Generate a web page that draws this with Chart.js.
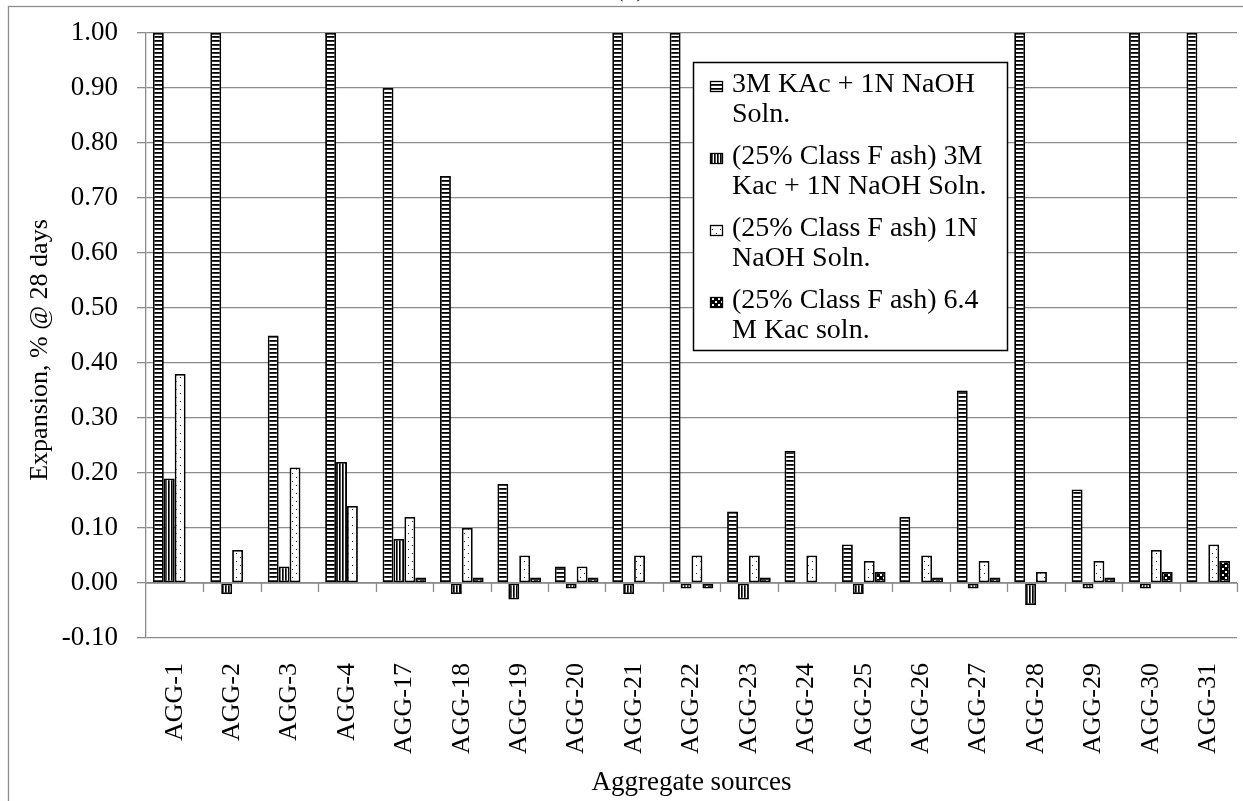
<!DOCTYPE html>
<html>
<head>
<meta charset="utf-8">
<title>Expansion at 28 days by aggregate source</title>
<script src="https://cdn.jsdelivr.net/npm/chart.js@4.4.1/dist/chart.umd.min.js"></script>
<style>
  html, body { margin: 0; padding: 0; background: #fff; }
  #wrap { position: relative; width: 1243px; height: 801px; }
</style>
</head>
<body>
<div id="wrap"><canvas id="c"></canvas></div>
<script>
// ---- data -------------------------------------------------------------
const categories = ['AGG-1', 'AGG-2', 'AGG-3', 'AGG-4', 'AGG-17', 'AGG-18', 'AGG-19', 'AGG-20',
  'AGG-21', 'AGG-22', 'AGG-23', 'AGG-24', 'AGG-25', 'AGG-26', 'AGG-27', 'AGG-28', 'AGG-29',
  'AGG-30', 'AGG-31'];

const kacNaoh       = [1.00, 1.00, 0.45, 1.00, 0.90, 0.74, 0.18, 0.03, 1.00, 1.00, 0.13, 0.24, 0.07, 0.12, 0.35, 1.00, 0.17, 1.00, 1.00];
const ashKacNaoh    = [0.19, -0.02, 0.03, 0.22, 0.08, -0.02, -0.03, -0.01, -0.02, -0.01, -0.03, null, -0.02, null, -0.01, -0.04, -0.01, -0.01, null];
const ashNaoh       = [0.38, 0.06, 0.21, 0.14, 0.12, 0.10, 0.05, 0.03, 0.05, 0.05, 0.05, 0.05, 0.04, 0.05, 0.04, 0.02, 0.04, 0.06, 0.07];
const ashKac64      = [null, null, null, null, 0.01, 0.01, 0.01, 0.01, null, -0.01, 0.01, null, 0.02, 0.01, 0.01, null, 0.01, 0.02, 0.04];

const seriesLines = [
  ['3M KAc + 1N NaOH', 'Soln.'],
  ['(25% Class F ash) 3M', 'Kac + 1N NaOH Soln.'],
  ['(25% Class F ash) 1N', 'NaOH Soln.'],
  ['(25% Class F ash) 6.4', 'M Kac soln.']
];

const yTickValues = [-0.10, 0.00, 0.10, 0.20, 0.30, 0.40, 0.50, 0.60, 0.70, 0.80, 0.90, 1.00];

const yTitle = 'Expansion, % @ 28 days';
const xTitle = 'Aggregate sources';
const chartTag = '(b)';

// ---- fill patterns ----------------------------------------------------
const mainCtx = document.getElementById('c').getContext('2d');
function makePattern(w, h, paint) {
  const c = document.createElement('canvas');
  c.width = w; c.height = h;
  const g = c.getContext('2d');
  paint(g, w, h);
  return mainCtx.createPattern(c, 'repeat');
}
const hStripes = makePattern(4, 4, (g, w, h) => {
  g.fillStyle = '#fff'; g.fillRect(0, 0, w, h);
  g.fillStyle = '#000'; g.fillRect(0, 0, w, 1);
  g.fillStyle = '#333'; g.fillRect(0, 1, w, 1);
});
const vStripes = makePattern(3, 3, (g, w, h) => {
  g.fillStyle = '#fff'; g.fillRect(0, 0, w, h);
  g.fillStyle = '#000'; g.fillRect(0, 0, 1, h);
  g.fillStyle = '#555'; g.fillRect(1, 0, 1, h);
});
const sparseDots = makePattern(8, 8, (g, w, h) => {
  g.fillStyle = '#fff'; g.fillRect(0, 0, w, h);
  g.fillStyle = '#222'; g.fillRect(4, 1, 1, 1); g.fillRect(0, 5, 1, 1);
});
const checker = makePattern(6, 6, (g, w, h) => {
  g.fillStyle = '#000'; g.fillRect(0, 0, w, h);
  g.fillStyle = '#fff'; g.fillRect(1, 1, 2, 2); g.fillRect(4, 4, 2, 2);
});
const fills = [hStripes, vStripes, sparseDots, checker];

const FONT = "'Liberation Serif', 'Times New Roman', serif";
const GRID = '#8c8c8c';

// ---- extra drawing: zero axis, frame, legend, titles --------------------
const decorations = {
  id: 'decorations',
  beforeDatasetsDraw(chart) {
    const { ctx, chartArea: a, scales: { y } } = chart;
    const y0 = y.getPixelForValue(0);
    ctx.save();
    ctx.strokeStyle = GRID;
    ctx.lineWidth = 1.3;
    ctx.beginPath();
    ctx.moveTo(a.left, y0); ctx.lineTo(a.right, y0);
    const step = (a.right - a.left) / categories.length;
    for (let i = 1; i <= categories.length; i++) {
      const px = Math.round(a.left + step * i) + 0.5;
      ctx.moveTo(px, y0); ctx.lineTo(px, y0 + 9);
    }
    ctx.stroke();
    ctx.restore();
  },
  afterDraw(chart) {
    const { ctx } = chart;
    ctx.save();
    // outer frame
    ctx.strokeStyle = GRID;
    ctx.lineWidth = 1.3;
    ctx.strokeRect(8.5, 6.5, 1400, 900);
    // tag above the frame
    ctx.fillStyle = '#000';
    ctx.font = '26px ' + FONT;
    ctx.textAlign = 'center';
    ctx.textBaseline = 'alphabetic';
    ctx.fillText(chartTag, 630, -4);
    // y axis title
    ctx.save();
    ctx.translate(40, 350);
    ctx.rotate(-Math.PI / 2);
    ctx.font = '26px ' + FONT;
    ctx.textBaseline = 'middle';
    ctx.fillText(yTitle, 0, 0);
    ctx.restore();
    // legend
    const box = { left: 693, top: 62, right: 1007, bottom: 350 };
    ctx.fillStyle = '#fff';
    ctx.fillRect(box.left, box.top, box.right - box.left, box.bottom - box.top);
    ctx.strokeStyle = '#000';
    ctx.lineWidth = 1.5;
    ctx.strokeRect(box.left + 0.5, box.top + 0.5, box.right - box.left, box.bottom - box.top);
    ctx.font = '28px ' + FONT;
    ctx.textAlign = 'left';
    ctx.textBaseline = 'alphabetic';
    seriesLines.forEach((lines, i) => {
      const base = 92 + i * 72;
      ctx.fillStyle = fills[i];
      ctx.fillRect(710, base - 11, 12, 11);
      ctx.strokeStyle = '#000';
      ctx.lineWidth = 1.3;
      ctx.strokeRect(710.5, base - 10.5, 12, 10);
      ctx.fillStyle = '#000';
      lines.forEach((t, j) => ctx.fillText(t, 732, base + j * 30));
    });
    ctx.restore();
  }
};

// ---- chart ---------------------------------------------------------------
Chart.defaults.font.family = FONT;
Chart.defaults.color = '#000';

const seriesValues = [kacNaoh, ashKacNaoh, ashNaoh, ashKac64];

new Chart(mainCtx, {
  type: 'bar',
  data: {
    labels: categories,
    datasets: seriesValues.map((vals, i) => ({
      label: seriesLines[i].join(' '),
      data: vals,
      backgroundColor: fills[i],
      borderColor: '#000',
      borderWidth: 1.8,
      borderSkipped: false,
      categoryPercentage: 0.76,
      barPercentage: 1.0
    }))
  },
  options: {
    responsive: true,
    maintainAspectRatio: false,
    animation: false,
    layout: { padding: { top: 33, right: 6, left: 0, bottom: 0 } },
    plugins: { legend: { display: false }, tooltip: { enabled: false } },
    scales: {
      x: {
        grid: { display: false, drawTicks: false },
        border: { display: false },
        ticks: { minRotation: 90, maxRotation: 90, autoSkip: false, padding: 25, font: { size: 26 } },
        title: { display: true, text: xTitle, font: { size: 27 }, padding: { top: 0, bottom: 2 } },
        afterFit(scale) {
          scale.height = 163;
          scale.paddingLeft = 0;
          scale.paddingRight = 0;
        }
      },
      y: {
        min: -0.1,
        max: 1.0,
        afterBuildTicks(scale) { scale.ticks = yTickValues.map(v => ({ value: v })); },
        grid: { color: GRID, lineWidth: 1.3, tickLength: 9, tickColor: GRID },
        border: { display: true, color: GRID, width: 1.3 },
        ticks: { padding: 19, font: { size: 27 }, callback: v => Number(v).toFixed(2) },
        afterFit(scale) {
          scale.width = 146;
          scale.paddingTop = 0;
          scale.paddingBottom = 0;
        }
      }
    }
  },
  plugins: [decorations]
});
</script>
</body>
</html>
